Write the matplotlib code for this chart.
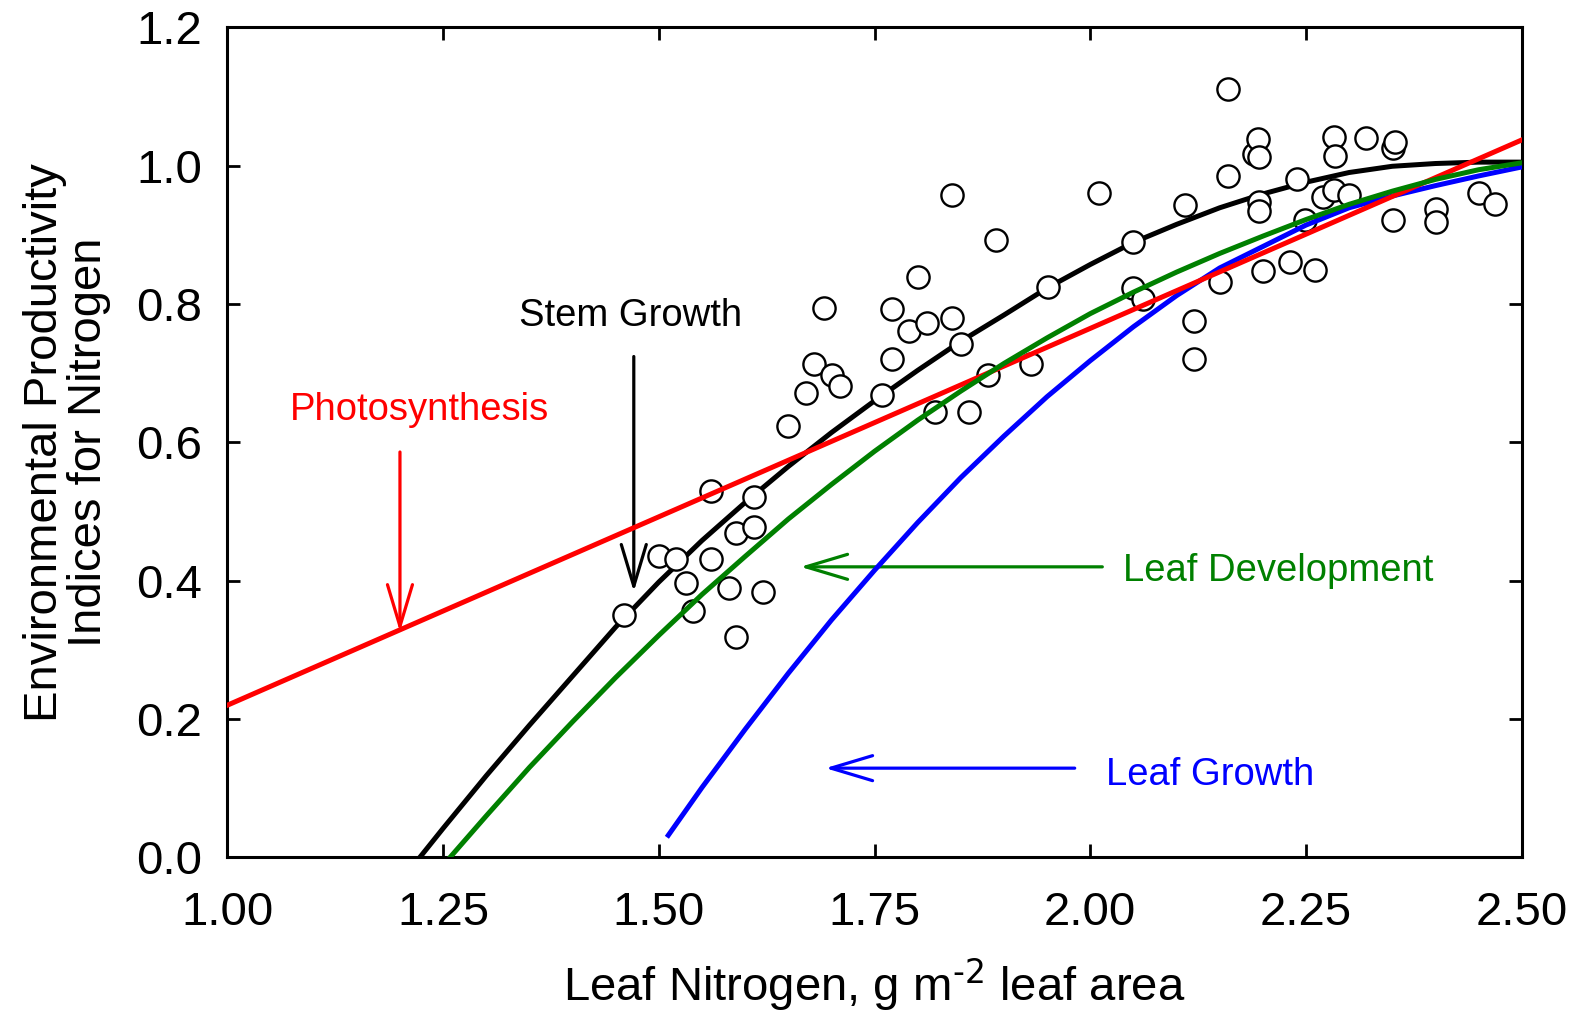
import matplotlib
matplotlib.use("Agg")
import matplotlib.pyplot as plt

plt.rcParams['font.family'] = ['Liberation Sans', 'DejaVu Sans']
plt.rcParams['mathtext.default'] = 'regular'

# observed leaf nitrogen vs. index (circles)
obs_n = [1.460, 1.500, 1.520, 1.531, 1.540, 1.560, 1.560, 1.581, 1.589, 1.590,
         1.610, 1.610, 1.621, 1.650, 1.671, 1.680, 1.691, 1.701, 1.710, 1.759,
         1.770, 1.770, 1.790, 1.800, 1.811, 1.820, 1.840, 1.840, 1.850, 1.860,
         1.881, 1.891, 1.931, 1.951, 2.010, 2.050, 2.050, 2.061, 2.110, 2.120,
         2.120, 2.150, 2.160, 2.160, 2.190, 2.195, 2.196, 2.196, 2.196, 2.200,
         2.231, 2.240, 2.249, 2.260, 2.270, 2.282, 2.282, 2.284, 2.300, 2.320,
         2.351, 2.353, 2.351, 2.401, 2.401, 2.451, 2.469]
obs_idx = [0.351, 0.436, 0.432, 0.397, 0.356, 0.530, 0.432, 0.390, 0.469, 0.319,
           0.521, 0.477, 0.383, 0.624, 0.672, 0.713, 0.794, 0.698, 0.682, 0.668,
           0.793, 0.721, 0.761, 0.839, 0.772, 0.644, 0.780, 0.957, 0.742, 0.644,
           0.698, 0.892, 0.713, 0.825, 0.961, 0.890, 0.823, 0.807, 0.943, 0.775,
           0.720, 0.832, 1.110, 0.985, 1.017, 1.039, 1.012, 0.948, 0.935, 0.847,
           0.860, 0.980, 0.921, 0.849, 0.954, 1.041, 0.964, 1.014, 0.957, 1.040,
           1.025, 1.034, 0.921, 0.937, 0.918, 0.961, 0.945]

# fitted response curves
stem_n = [1.223, 1.25, 1.30, 1.35, 1.40, 1.45, 1.50, 1.55, 1.60, 1.65, 1.70, 1.75,
          1.80, 1.85, 1.90, 1.95, 2.00, 2.05, 2.10, 2.15, 2.20, 2.25, 2.30, 2.35,
          2.40, 2.45, 2.50]
stem_idx = [0.000, 0.042, 0.118, 0.191, 0.262, 0.333, 0.398, 0.458, 0.513, 0.565,
            0.614, 0.660, 0.704, 0.746, 0.784, 0.823, 0.857, 0.889, 0.915, 0.939,
            0.959, 0.976, 0.990, 0.999, 1.003, 1.005, 1.005]

dev_n = [1.258, 1.30, 1.35, 1.40, 1.45, 1.50, 1.55, 1.60, 1.65, 1.70, 1.75, 1.80,
         1.85, 1.90, 1.95, 2.00, 2.05, 2.10, 2.15, 2.20, 2.25, 2.30, 2.35, 2.40,
         2.45, 2.50]
dev_idx = [0.000, 0.060, 0.130, 0.196, 0.260, 0.321, 0.380, 0.435, 0.489, 0.539,
           0.587, 0.632, 0.674, 0.714, 0.751, 0.786, 0.817, 0.846, 0.873, 0.898,
           0.922, 0.944, 0.963, 0.980, 0.994, 1.004]

growth_n = [1.511, 1.55, 1.60, 1.65, 1.70, 1.75, 1.80, 1.85, 1.90, 1.95, 2.00, 2.05,
            2.10, 2.15, 2.20, 2.25, 2.30, 2.35, 2.40, 2.45, 2.50]
growth_idx = [0.032, 0.101, 0.185, 0.266, 0.343, 0.415, 0.484, 0.549, 0.609, 0.666,
              0.718, 0.767, 0.812, 0.852, 0.883, 0.914, 0.939, 0.956, 0.971, 0.985,
              0.998]

photo_n = [1.0, 2.5]
photo_idx = [0.22, 1.037]

fig = plt.figure(figsize=(15.78, 10.16), dpi=100)
ax = fig.add_axes([0.1441, 0.1561, 0.8202, 0.8171])

# black curve sits under the white circles, coloured ones on top
ax.plot(stem_n, stem_idx, color='black', lw=3.6, zorder=2, solid_joinstyle='round')
ax.plot(obs_n, obs_idx, 'o', ms=16, mfc='white', mec='black', mew=1.7, zorder=3)
ax.plot(growth_n, growth_idx, color='#0000ff', lw=3.6, zorder=4, solid_joinstyle='round')
ax.plot(photo_n, photo_idx, color='#ff0000', lw=3.6, zorder=4)
ax.plot(dev_n, dev_idx, color='#008000', lw=3.6, zorder=4, solid_joinstyle='round')

# labels with open arrowheads
arrow = dict(arrowstyle='->,head_length=1.5,head_width=0.45', lw=2.3,
             shrinkA=0, shrinkB=0, mutation_scale=20)
ax.annotate('', xy=(1.200, 0.326), xytext=(1.200, 0.586),
            arrowprops=dict(arrow, color='#ff0000'))
ax.annotate('', xy=(1.471, 0.384), xytext=(1.471, 0.724),
            arrowprops=dict(arrow, color='black'))
ax.annotate('', xy=(1.664, 0.420), xytext=(2.014, 0.420),
            arrowprops=dict(arrow, color='#008000'))
ax.annotate('', xy=(1.693, 0.129), xytext=(1.982, 0.129),
            arrowprops=dict(arrow, color='#0000ff'))

ax.text(1.072, 0.632, 'Photosynthesis', color='#ff0000', fontsize=27.5, va='baseline')
ax.text(1.338, 0.768, 'Stem Growth', color='black', fontsize=27.5, va='baseline')
ax.text(2.038, 0.400, 'Leaf Development', color='#008000', fontsize=27.5, va='baseline')
ax.text(2.018, 0.105, 'Leaf Growth', color='#0000ff', fontsize=27.5, va='baseline')

ax.set_xlim(1.0, 2.5)
ax.set_ylim(0.0, 1.2)
ax.set_xticks([1.00, 1.25, 1.50, 1.75, 2.00, 2.25, 2.50])
ax.set_xticklabels(['1.00', '1.25', '1.50', '1.75', '2.00', '2.25', '2.50'])
ax.set_yticks([0.0, 0.2, 0.4, 0.6, 0.8, 1.0, 1.2])
ax.set_yticklabels(['0.0', '0.2', '0.4', '0.6', '0.8', '1.0', '1.2'])

ax.tick_params(axis='both', direction='in', top=True, right=True,
               length=9.5, width=2.0, labelsize=34)
ax.tick_params(axis='x', pad=24)
ax.tick_params(axis='y', pad=18)
for sp in ax.spines.values():
    sp.set_linewidth(2.2)

ax.set_xlabel(r'Leaf Nitrogen, g m$^{\text{-2}}$ leaf area', fontsize=34)
ax.set_ylabel('Environmental Productivity\nIndices for Nitrogen', fontsize=34,
              linespacing=1.0)
ax.xaxis.set_label_coords(0.5, -0.119)
ax.yaxis.set_label_coords(-0.090, 0.5)

fig.savefig('out.png', dpi=100)
